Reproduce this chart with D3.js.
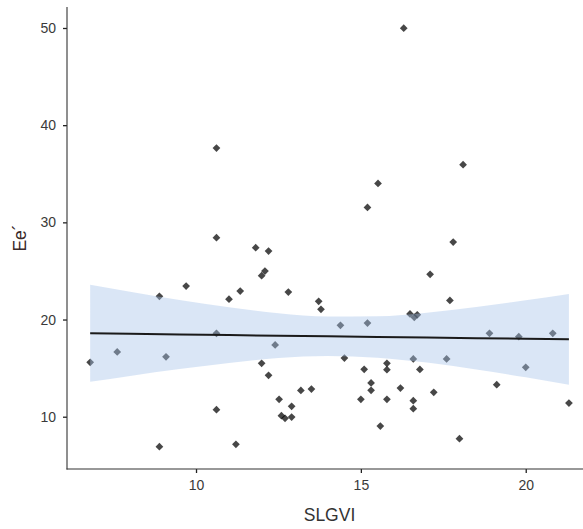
<!DOCTYPE html>
<html>
<head>
<meta charset="utf-8">
<script src="https://cdn.jsdelivr.net/npm/d3@7"></script>
<style>
  html, body { margin: 0; padding: 0; background: #ffffff; }
  svg { display: block; }
  text { font-family: "Liberation Sans", Arial, sans-serif; }
</style>
</head>
<body>
<svg id="chart" width="583" height="529"></svg>
<script>
// ---- data ----
const xValues = [6.79, 7.61, 8.89, 8.89, 9.09, 9.70, 10.62, 10.62, 10.62, 10.62,
  11.00, 11.21, 11.34, 11.81, 11.99, 12.09, 12.20, 11.99, 12.20, 12.40,
  12.52, 12.59, 12.70, 12.80, 12.90, 12.90, 13.18, 13.50, 13.72, 13.79,
  14.38, 14.50, 15.00, 15.10, 15.20, 15.20, 15.31, 15.31, 15.52, 15.59,
  15.79, 15.79, 15.79, 16.20, 16.30, 16.49, 16.71, 16.62, 16.59, 16.59,
  16.59, 16.79, 17.10, 17.21, 17.60, 17.70, 17.80, 17.99, 18.10, 18.90,
  19.12, 19.79, 20.00, 20.82, 21.31];
const yValues = [15.60, 16.66, 22.39, 6.91, 16.17, 23.45, 37.64, 28.42, 18.58, 10.72,
  22.10, 7.16, 22.93, 27.39, 24.51, 24.99, 27.05, 15.49, 14.26, 17.38,
  11.79, 10.10, 9.84, 22.83, 11.07, 9.97, 12.71, 12.85, 21.87, 21.05,
  19.40, 16.04, 11.79, 14.88, 31.54, 19.64, 13.47, 12.72, 34.01, 9.04,
  15.49, 14.84, 11.79, 12.95, 49.98, 20.57, 20.49, 20.23, 15.94, 11.65,
  10.82, 14.87, 24.65, 12.51, 15.94, 21.97, 27.97, 7.74, 35.93, 18.58,
  13.29, 18.23, 15.08, 18.58, 11.41];

// fitted line and confidence band
const fitX   = [6.79, 8.0, 9.5, 11.0, 12.5, 14.0, 15.5, 17.0, 18.5, 20.0, 21.31];
const fitY   = [18.58, 18.53, 18.46, 18.40, 18.34, 18.27, 18.21, 18.14, 18.08, 18.02, 17.96];
const bandLo = [13.59, 14.20, 14.90, 15.54, 16.04, 16.24, 16.08, 15.57, 14.86, 14.06, 13.30];
const bandHi = [23.57, 22.86, 22.02, 21.26, 20.64, 20.30, 20.34, 20.71, 21.30, 21.98, 22.62];

const xTicks = [10, 15, 20];
const yTicks = [10, 20, 30, 40, 50];
const xTitle = "SLGVI";
const yTitle = "Ee\u00B4";

// ---- layout ----
const svg = d3.select("#chart");
const mLeft = 67, mRight = 592, mTop = 7, mBottom = 469;

const x = d3.scaleLinear().domain([6.087, 22.01]).range([mLeft, mRight]);
const y = d3.scaleLinear().domain([4.62, 52.16]).range([mBottom, mTop]);

const points = xValues.map((v, i) => ({ x: v, y: yValues[i] }));
const fit = fitX.map((v, i) => ({ x: v, y: fitY[i], lo: bandLo[i], hi: bandHi[i] }));

// points
const diamond = d3.symbol().type(d3.symbolSquare).size(30);
svg.append("g")
  .selectAll("path")
  .data(points)
  .join("path")
  .attr("d", diamond)
  .attr("transform", d => `translate(${x(d.x)},${y(d.y)}) rotate(45)`)
  .attr("fill", "#000000")
  .attr("fill-opacity", 0.72);

// confidence band
svg.append("path")
  .datum(fit)
  .attr("d", d3.area().x(d => x(d.x)).y0(d => y(d.lo)).y1(d => y(d.hi)).curve(d3.curveMonotoneX))
  .attr("fill", "#a7c4ea")
  .attr("fill-opacity", 0.42);

// fitted line
svg.append("path")
  .datum(fit)
  .attr("d", d3.line().x(d => x(d.x)).y(d => y(d.y)))
  .attr("fill", "none")
  .attr("stroke", "#1a1a1a")
  .attr("stroke-width", 2);

// axes
const xAxis = d3.axisBottom(x).tickValues(xTicks).tickSize(4).tickPadding(7).tickFormat(d3.format("d"));
const yAxis = d3.axisLeft(y).tickValues(yTicks).tickSize(4).tickPadding(7).tickFormat(d3.format("d"));

const gx = svg.append("g").attr("transform", `translate(0,${mBottom})`).call(xAxis);
const gy = svg.append("g").attr("transform", `translate(${mLeft},0)`).call(yAxis);

[gx, gy].forEach(g => {
  g.select(".domain").remove();
  g.selectAll(".tick line").attr("stroke", "#222222").attr("stroke-width", 1.3);
  g.selectAll(".tick text")
    .attr("fill", "#3a3a3a")
    .style("font-size", "14px")
    .style("font-family", "'Liberation Sans', Arial, sans-serif");
});

// axis lines
svg.append("line")
  .attr("x1", mLeft).attr("x2", mLeft).attr("y1", mTop).attr("y2", mBottom + 0.5)
  .attr("stroke", "#333333").attr("stroke-width", 1.1);
svg.append("line")
  .attr("x1", mLeft - 0.5).attr("x2", mRight).attr("y1", mBottom).attr("y2", mBottom)
  .attr("stroke", "#333333").attr("stroke-width", 1.1);

// titles
svg.append("text")
  .attr("x", (mLeft + mRight) / 2)
  .attr("y", 521)
  .attr("text-anchor", "middle")
  .attr("fill", "#333333")
  .style("font-size", "17.5px")
  .text(xTitle);

svg.append("text")
  .attr("transform", "translate(26,238) rotate(-90)")
  .attr("text-anchor", "middle")
  .attr("fill", "#3a2a2a")
  .style("font-size", "17.5px")
  .text(yTitle);
</script>
</body>
</html>
